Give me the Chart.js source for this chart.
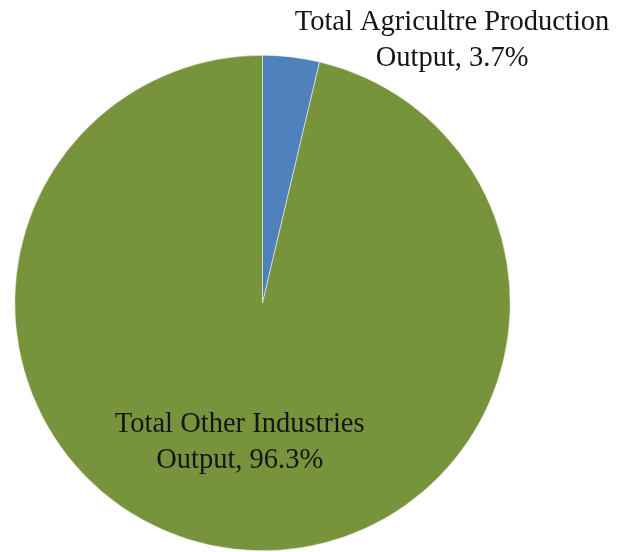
<!DOCTYPE html>
<html>
<head>
<meta charset="utf-8">
<script src="https://cdn.jsdelivr.net/npm/chart.js@4/dist/chart.umd.min.js"></script>
<style>
  html, body { margin: 0; padding: 0; background: #fff; }
  #wrap { width: 619px; height: 552px; }
</style>
</head>
<body>
<div id="wrap"><canvas id="pieChart" width="619" height="552"></canvas></div>
<script>
const categories = [
  ["Total Agricultre Production", "Output, 3.7%"],
  ["Total Other Industries", "Output, 96.3%"]
];
const shares = [3.7, 96.3];
const sliceColors = ["#4f81bd", "#77933c"];

// draws the two data labels next to their slices
const sliceLabels = {
  id: "sliceLabels",
  afterDatasetsDraw(chart) {
    const ctx = chart.ctx;
    const arcs = chart.getDatasetMeta(0).data;
    ctx.save();
    ctx.font = "28.5px 'Liberation Serif', 'Times New Roman', serif";
    ctx.fillStyle = "#151515";
    ctx.textAlign = "center";
    ctx.textBaseline = "middle";
    arcs.forEach((arc, i) => {
      const mid = (arc.startAngle + arc.endAngle) / 2;
      let x, y;
      if (i === 0) {
        // outside, above right of the small slice
        x = arc.x + arc.outerRadius * 0.765;
        y = arc.y - arc.outerRadius * 1.06;
      } else {
        x = arc.x + Math.cos(mid) * arc.outerRadius * 0.55 - 7;
        y = arc.y + Math.sin(mid) * arc.outerRadius * 0.565;
      }
      const lines = categories[i];
      lines.forEach((t, k) => {
        ctx.fillText(t, x, y + (k - (lines.length - 1) / 2) * 36);
      });
    });
    ctx.restore();
  }
};

new Chart(document.getElementById("pieChart"), {
  type: "pie",
  data: {
    labels: categories.map(c => c.join(" ")),
    datasets: [
      {
        data: shares,
        backgroundColor: sliceColors,
        borderColor: "#ffffff",
        borderWidth: 0.5,
      },
    ],
  },
  options: {
    responsive: false,
    animation: false,
    layout: {
      padding: { left: 14.5, right: 108.5, top: 55, bottom: 1 },
    },
    plugins: {
      legend: { display: false },
      tooltip: { enabled: false },
    },
  },
  plugins: [sliceLabels],
});
</script>
</body>
</html>
